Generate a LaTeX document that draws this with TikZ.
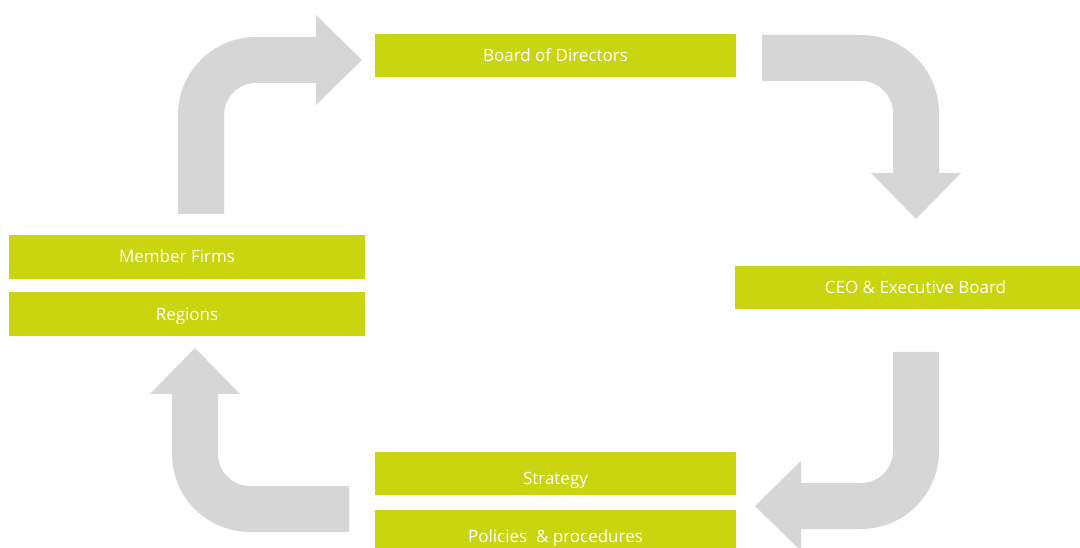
\documentclass[tikz,border=0pt]{standalone}
\usepackage{fontspec}
\setmainfont{Open Sans}
\usetikzlibrary{positioning}
\definecolor{boxgreen}{RGB}{201,214,15}
\definecolor{arrowgrey}{RGB}{214,214,214}

\begin{document}
\begin{tikzpicture}[x=1pt,y=1pt,
 box/.style={fill=boxgreen,text=white,minimum width=361pt,minimum height=43pt,
 inner sep=0pt,text height=12pt,text depth=0pt,font=\fontsize{17}{20}\selectfont},
 lowbox/.style={box,text height=22pt},
 sidebox/.style={box,minimum width=356pt,minimum height=44pt},
 bentarrow/.pic={\fill[arrowgrey] (-99,32) -- (-99,78) -- (0,78)
   arc[start angle=90,end angle=0,radius=78pt] -- (78,-60) -- (100,-60)
   -- (55,-106) -- (10,-60) -- (32,-60) -- (32,0)
   arc[start angle=0,end angle=90,radius=32pt] -- cycle;}]
  \useasboundingbox (0,0) rectangle (1080,547);

  \node[box] (board) at (555.5,491.5) {Board of Directors};
  \node[box] (ceo) at (915.5,259.5) {CEO \& Executive Board};
  \node[lowbox] (strategy) at (555.5,73.5) {Strategy};
  \node[lowbox,below=15pt of strategy] (policies) {Policies\ \ \& procedures};
  \node[sidebox] (firms) at (187,290) {Member Firms\hspace*{20pt}};
  \node[sidebox,below=13pt of firms] (regions) {Regions};

  % the four bends of the cycle, clockwise
  \pic[rotate=90] at (256,432) {bentarrow};
  \pic at (861,434) {bentarrow};
  \pic[rotate=-90] at (861,96) {bentarrow};
  \pic[rotate=180] at (250,93) {bentarrow};
\end{tikzpicture}
\end{document}
